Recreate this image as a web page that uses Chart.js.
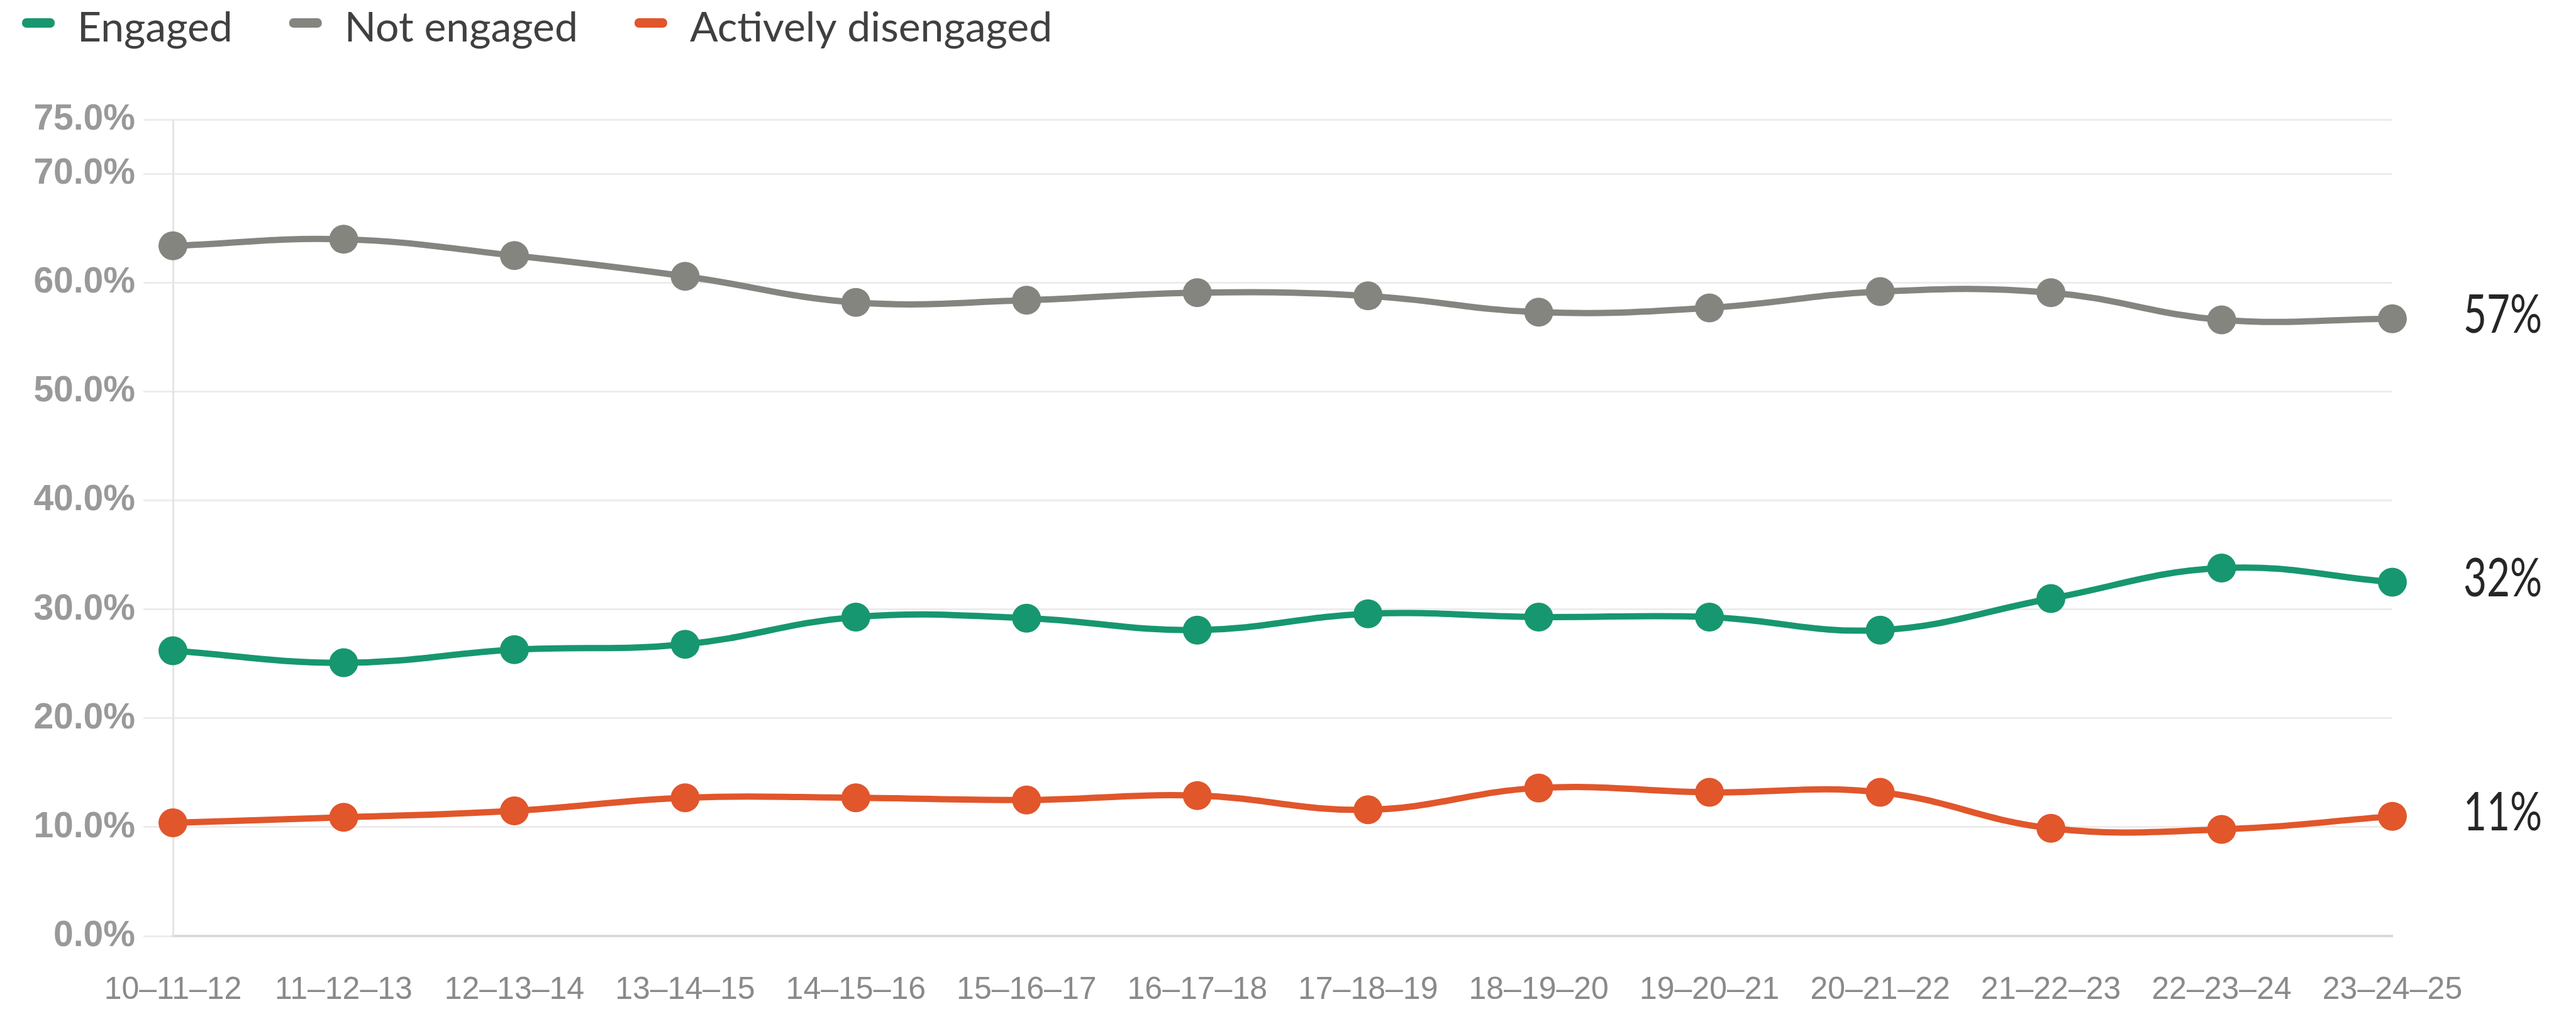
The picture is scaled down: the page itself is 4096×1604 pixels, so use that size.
<!DOCTYPE html>
<html>
<head>
<meta charset="utf-8">
<script src="https://cdn.jsdelivr.net/npm/chart.js@4/dist/chart.umd.min.js"></script>
<style>
html,body{margin:0;padding:0;background:#ffffff;}
#wrap{width:4096px;height:1604px;position:relative;}
</style>
</head>
<body>
<div id="wrap"><canvas id="c"></canvas></div>
<script>
const categories = ['10–11–12','11–12–13','12–13–14','13–14–15','14–15–16','15–16–17','16–17–18','17–18–19','18–19–20','19–20–21','20–21–22','21–22–23','22–23–24','23–24–25'];
const engaged = [26.2, 25.1, 26.3, 26.8, 29.3, 29.2, 28.1, 29.6, 29.3, 29.3, 28.1, 31.0, 33.8, 32.5];
const notEngaged = [63.4, 64.0, 62.5, 60.6, 58.2, 58.4, 59.1, 58.8, 57.3, 57.7, 59.2, 59.1, 56.6, 56.7];
const activelyDisengaged = [10.4, 10.9, 11.5, 12.7, 12.7, 12.5, 12.9, 11.6, 13.6, 13.2, 13.2, 9.9, 9.8, 11.0];
const seriesNames = ['Engaged', 'Not engaged', 'Actively disengaged'];
const seriesColors = ['#17976f', '#858580', '#e1562b'];
const endLabels = ['32%', '57%', '11%'];
const yTicks = [0, 10, 20, 30, 40, 50, 60, 70, 75];

const tickFont = '"Liberation Sans", Arial, sans-serif';

const customLegend = {
  id: 'customLegend',
  afterDraw(chart) {
    const ctx = chart.ctx;
    ctx.save();
    ctx.font = '66px Lato, "Noto Sans", sans-serif';
    ctx.textBaseline = 'alphabetic';
    ctx.textAlign = 'left';
    let x = 35;
    chart.data.datasets.forEach(ds => {
      ctx.fillStyle = ds.borderColor;
      ctx.beginPath();
      ctx.roundRect(x, 29, 52, 15, 7);
      ctx.fill();
      const tx = x + 52 + 36;
      ctx.fillStyle = '#404040';
      ctx.fillText(ds.label, tx, 66);
      x = tx + ctx.measureText(ds.label).width + 90;
    });
    ctx.restore();
  }
};

const endLabelPlugin = {
  id: 'endLabels',
  afterDatasetsDraw(chart) {
    const ctx = chart.ctx;
    const xs = chart.scales.x, ys = chart.scales.y;
    chart.data.datasets.forEach((ds, i) => {
      const last = ds.data.length - 1;
      const px = xs.getPixelForValue(last) + 113;
      const py = ys.getPixelForValue(ds.data[last]) + 22;
      ctx.save();
      ctx.translate(px, py);
      ctx.scale(0.75, 1);
      ctx.font = '85px Lato, "Noto Sans", sans-serif';
      ctx.fillStyle = '#262626';
      ctx.textBaseline = 'alphabetic';
      ctx.textAlign = 'left';
      ctx.fillText(endLabels[i], 0, 0);
      ctx.restore();
    });
  }
};

function makeDataset(label, data, color) {
  return {
    label: label,
    data: data,
    borderColor: color,
    backgroundColor: color,
    pointBackgroundColor: color,
    pointBorderColor: color,
    pointBorderWidth: 0,
    pointRadius: 23,
    pointHoverRadius: 23,
    borderWidth: 10,
    tension: 0.4,
    fill: false,
    clip: false
  };
}

function build() {
  new Chart(document.getElementById('c'), {
    type: 'line',
    data: {
      labels: categories,
      datasets: [
        makeDataset(seriesNames[0], engaged, seriesColors[0]),
        makeDataset(seriesNames[1], notEngaged, seriesColors[1]),
        makeDataset(seriesNames[2], activelyDisengaged, seriesColors[2])
      ]
    },
    options: {
      responsive: true,
      maintainAspectRatio: false,
      animation: false,
      devicePixelRatio: 1,
      layout: { padding: { top: 190, right: 292, bottom: 0, left: 0 } },
      plugins: {
        legend: { display: false },
        tooltip: { enabled: false }
      },
      scales: {
        x: {
          type: 'category',
          offset: false,
          afterFit: s => { s.height = 116; },
          grid: { display: false, drawTicks: false },
          border: { display: true, color: '#d9d9d9', width: 4 },
          ticks: {
            color: '#8a8a8a',
            font: { family: tickFont, size: 50 },
            padding: 56,
            maxRotation: 0,
            minRotation: 0,
            autoSkip: false
          }
        },
        y: {
          min: 0,
          max: 75,
          afterBuildTicks: s => { s.ticks = yTicks.map(v => ({ value: v })); },
          afterFit: s => { s.width = 275; },
          grid: { color: '#ececec', lineWidth: 3, drawTicks: true, tickLength: 47, tickColor: '#ececec' },
          border: { display: true, color: '#e4e4e4', width: 3 },
          ticks: {
            color: '#999999',
            font: { family: tickFont, size: 57, weight: 'bold' },
            padding: 13,
            callback: v => Number(v).toFixed(1) + '%'
          }
        }
      }
    },
    plugins: [customLegend, endLabelPlugin]
  });
}

if (document.fonts && document.fonts.load) {
  Promise.all([
    document.fonts.load('66px Lato'),
    document.fonts.load('57px "Liberation Sans"')
  ]).then(build, build);
} else {
  build();
}
</script>
</body>
</html>
